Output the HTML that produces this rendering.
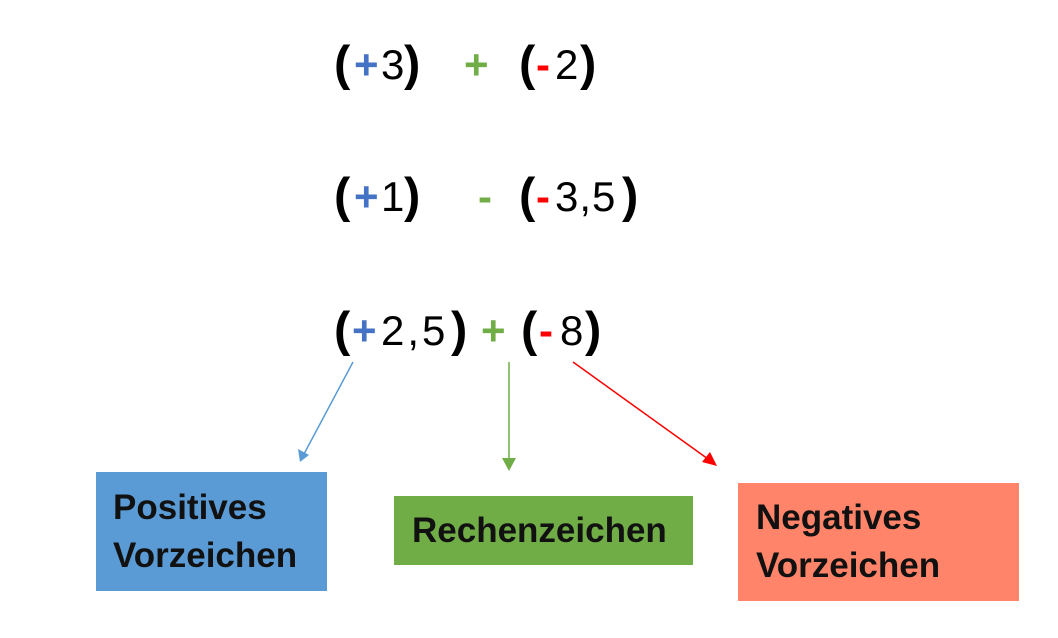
<!DOCTYPE html>
<html><head><meta charset="utf-8"><style>
body{margin:0;width:1058px;height:638px;background:#fff;position:relative;overflow:hidden;font-family:"Liberation Sans",sans-serif}
.t{position:absolute;font-size:42px;line-height:42px;color:#000;white-space:pre}
.b{font-weight:bold;font-size:49px;margin-top:-1px}
.bl{color:#4472c4;font-weight:bold}
.gr{color:#70ad47;font-weight:bold}
.rd{color:#ff0000;font-weight:bold}
.box{position:absolute;font-weight:bold;font-size:35px;line-height:48px;color:#111;box-sizing:border-box}
</style></head><body>
<!-- row 1 -->
<div class="t b" style="left:334px;top:44px">(</div>
<div class="t bl" style="left:354px;top:44px">+</div>
<div class="t" style="left:381px;top:44px">3</div>
<div class="t b" style="left:404px;top:44px">)</div>
<div class="t gr" style="left:464px;top:44px">+</div>
<div class="t b" style="left:519px;top:44px">(</div>
<div class="t rd" style="left:536px;top:44px">-</div>
<div class="t" style="left:555px;top:44px">2</div>
<div class="t b" style="left:580px;top:44px">)</div>
<!-- row 2 -->
<div class="t b" style="left:334px;top:176px">(</div>
<div class="t bl" style="left:354px;top:176px">+</div>
<div class="t" style="left:381px;top:176px">1</div>
<div class="t b" style="left:404px;top:176px">)</div>
<div class="t gr" style="left:478px;top:176px">-</div>
<div class="t b" style="left:519px;top:176px">(</div>
<div class="t rd" style="left:536px;top:176px">-</div>
<div class="t" style="left:555px;top:176px;letter-spacing:1px">3,5</div>
<div class="t b" style="left:622px;top:176px">)</div>
<!-- row 3 -->
<div class="t b" style="left:334px;top:310px">(</div>
<div class="t bl" style="left:352px;top:310px">+</div>
<div class="t" style="left:381px;top:310px;letter-spacing:3px">2,5</div>
<div class="t b" style="left:451px;top:310px">)</div>
<div class="t gr" style="left:481px;top:310px">+</div>
<div class="t b" style="left:521px;top:310px">(</div>
<div class="t rd" style="left:539px;top:310px">-</div>
<div class="t" style="left:560px;top:310px">8</div>
<div class="t b" style="left:585px;top:310px">)</div>

<svg width="1058" height="638" style="position:absolute;left:0;top:0">
<line x1="353" y1="362" x2="304" y2="454" stroke="#5b9bd5" stroke-width="1.5"/>
<polygon points="300,462 298,449 309,455" fill="#5b9bd5"/>
<line x1="509" y1="362" x2="509" y2="460" stroke="#70ad47" stroke-width="1.5"/>
<polygon points="502,458 516,458 509,471" fill="#70ad47"/>
<line x1="573" y1="362" x2="708" y2="459" stroke="#ff0000" stroke-width="1.5"/>
<polygon points="717,466 702,462 710,452" fill="#ff0000"/>
</svg>

<div class="box" style="left:96px;top:472px;width:231px;height:119px;background:#5b9bd5;padding:12px 0 0 17px">Positives<br>Vorzeichen</div>
<div class="box" style="left:394px;top:496px;width:299px;height:69px;background:#70ad47;padding:11px 0 0 18px">Rechenzeichen</div>
<div class="box" style="left:738px;top:483px;width:281px;height:118px;background:#ff8469;padding:11px 0 0 18px">Negatives<br>Vorzeichen</div>
</body></html>
